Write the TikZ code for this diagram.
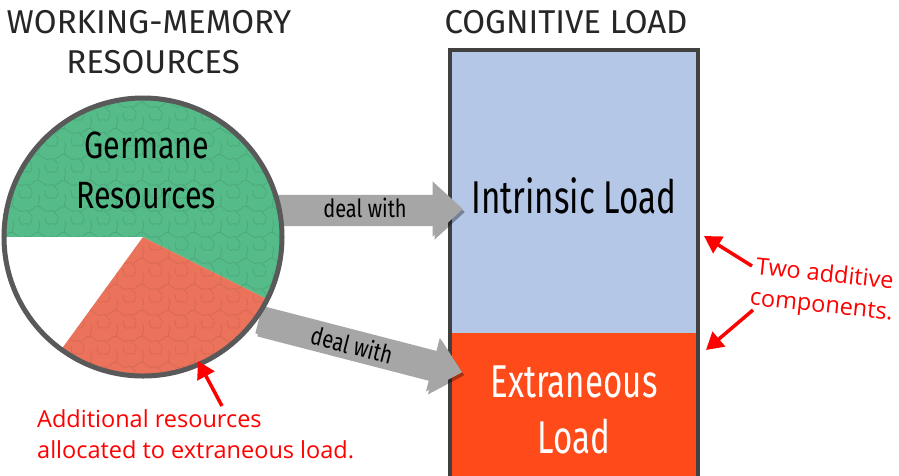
\documentclass[tikz,border=0pt]{standalone}
\usepackage{fontspec}
\setmainfont{Open Sans}
\newfontfamily\dinfont{Fira Sans}
\newfontfamily\condfont[FakeStretch=0.72]{Fira Sans}
\newfontfamily\germfont[FakeStretch=0.8]{Fira Sans}
\newfontfamily\dealfont[FakeStretch=0.8]{Fira Sans}
\usetikzlibrary{shapes.arrows,shadows,arrows.meta,patterns.meta}
\definecolor{titlegray}{HTML}{262626}
\definecolor{circgray}{HTML}{595959}
\definecolor{germgreen}{HTML}{55BB88}
\definecolor{extsalmon}{HTML}{EC735B}
\definecolor{arrowgray}{HTML}{A6A6A6}
\definecolor{loadblue}{HTML}{B4C7E7}
\definecolor{loadred}{HTML}{FF4A1A}
\definecolor{boxborder}{HTML}{404040}
\definecolor{annotred}{HTML}{FF0000}
\tikzdeclarepattern{
  name=mazy,
  type=uncolored,
  bounding box={(0pt,0pt) and (26pt,26pt)},
  tile size={(26pt,26pt)},
  code={
    \draw[line width=0.9pt, line cap=round] (0pt,6pt) .. controls (6pt,2pt) and (8pt,12pt) .. (13pt,10pt) .. controls (18pt,8pt) and (20pt,2pt) .. (26pt,6pt);
    \draw[line width=0.9pt, line cap=round] (13pt,10pt) .. controls (12pt,15pt) and (16pt,18pt) .. (13pt,22pt);
    \draw[line width=0.9pt, line cap=round] (0pt,19pt) .. controls (4pt,16pt) and (7pt,22pt) .. (6pt,26pt);
    \draw[line width=0.9pt, line cap=round] (26pt,19pt) .. controls (22pt,16pt) and (19pt,22pt) .. (20pt,26pt);
    \draw[line width=0.9pt, line cap=round] (6pt,0pt) .. controls (5pt,2pt) and (3pt,3pt) .. (0pt,6pt);
  }
}
\tikzset{
  titletxt/.style={font=\dinfont\fontsize{33}{33}\selectfont, text=titlegray, inner sep=0pt, anchor=base},
  germtxt/.style={font=\germfont\fontsize{38}{38}\selectfont, text=black, inner sep=0pt, anchor=base},
  loadtxt/.style={font=\condfont\fontsize{46}{46}\selectfont, inner sep=0pt, anchor=base},
  blockarrow/.style={single arrow, fill=arrowgray, draw=none, single arrow head extend=13.5pt,
    single arrow tip angle=85, inner xsep=0pt, inner ysep=14pt, text height=0pt, text depth=0pt,
    drop shadow={shadow xshift=2pt, shadow yshift=-3pt, opacity=0.35, fill=black}},
  dealtxt/.style={font=\dealfont\fontsize{25}{25}\selectfont, text=black, inner sep=0pt},
  redtxt/.style={font=\fontsize{23.5}{31}\selectfont, text=annotred, inner sep=0pt},
  redarrow/.style={draw=annotred, line width=3.5pt, -{Triangle[length=17pt,width=19pt]}},
  texture/.style={pattern={mazy}, pattern color=#1, opacity=0.22},
}
\begin{document}
\begin{tikzpicture}[x=1pt,y=-1pt]
\useasboundingbox (0,0) rectangle (899,475);
\fill[white] (0,0) rectangle (899,475);
% titles
\node[titletxt] (wm) at (149,33) {WORKING-MEMORY};
\node[titletxt] (res) at (153,73) {RESOURCES};
\node[titletxt] (cl) at (566,33) {COGNITIVE LOAD};
% load box
\node[fill=loadblue, minimum width=248pt, minimum height=283pt, inner sep=0pt, anchor=north west] (intr) at (450,50) {};
\node[fill=loadred, minimum width=248pt, minimum height=150pt, inner sep=0pt, anchor=north west] (extr) at (450,333) {};
\draw[boxborder, line width=4pt] (intr.south west) -- (intr.north west) -- (intr.north east) -- (intr.south east) -- (extr.south east)
  (intr.south west) -- (extr.south west);
\node[loadtxt, text=black] (intrlbl) at (574,213) {Intrinsic Load};
\node[loadtxt, text=white] (extrlbl1) at (574,397) {Extraneous};
\node[loadtxt, text=white] (extrlbl2) at (574,453) {Load};
% block arrows
\node[blockarrow, minimum height=193pt] (a1) at (358.5,209) {};
\node[dealtxt, anchor=base] (d1) at (365,217) {deal with};
\node[blockarrow, minimum height=210pt, rotate=-14.5] (a2) at (353,344) {};
\node[dealtxt, rotate=-14.5] (d2) at (352,345) {deal with};
% resources circle
\coordinate (c) at (143,237);
\fill[germgreen] (c) -- +(26.6:137) arc (26.6:-180:137) -- cycle;
\fill[texture=germgreen!60!black] (c) -- +(26.6:137) arc (26.6:-180:137) -- cycle;
\fill[white] (c) -- +(180:137) arc (180:126:137) -- cycle;
\fill[extsalmon] (c) -- +(126:137) arc (126:26.6:137) -- cycle;
\fill[texture=extsalmon!65!black] (c) -- +(126:137) arc (126:26.6:137) -- cycle;
\node[circle, draw=circgray, line width=5pt, minimum size=278pt, inner sep=0pt] (circ) at (c) {};
\node[germtxt] (germ1) at (147,158) {Germane};
\node[germtxt] (germ2) at (146,208) {Resources};
% annotations
\node[redtxt, align=left, anchor=north west] (addtxt) at (37,409) {Additional resources\\allocated to extraneous load.};
\coordinate (addtail) at (222,406);
\coordinate (addtip) at (198,361);
\draw[redarrow] (addtail) -- (addtip);
\node[redtxt, align=center, rotate=-6] (twotxt) at (823,291) {Two additive\\components.};
\coordinate (tailA) at (752,266);
\coordinate (tipA) at (704,236);
\coordinate (tailB) at (753,310);
\coordinate (tipB) at (706,350);
\draw[redarrow] (tailA) -- (tipA);
\draw[redarrow] (tailB) -- (tipB);
\end{tikzpicture}
\end{document}
